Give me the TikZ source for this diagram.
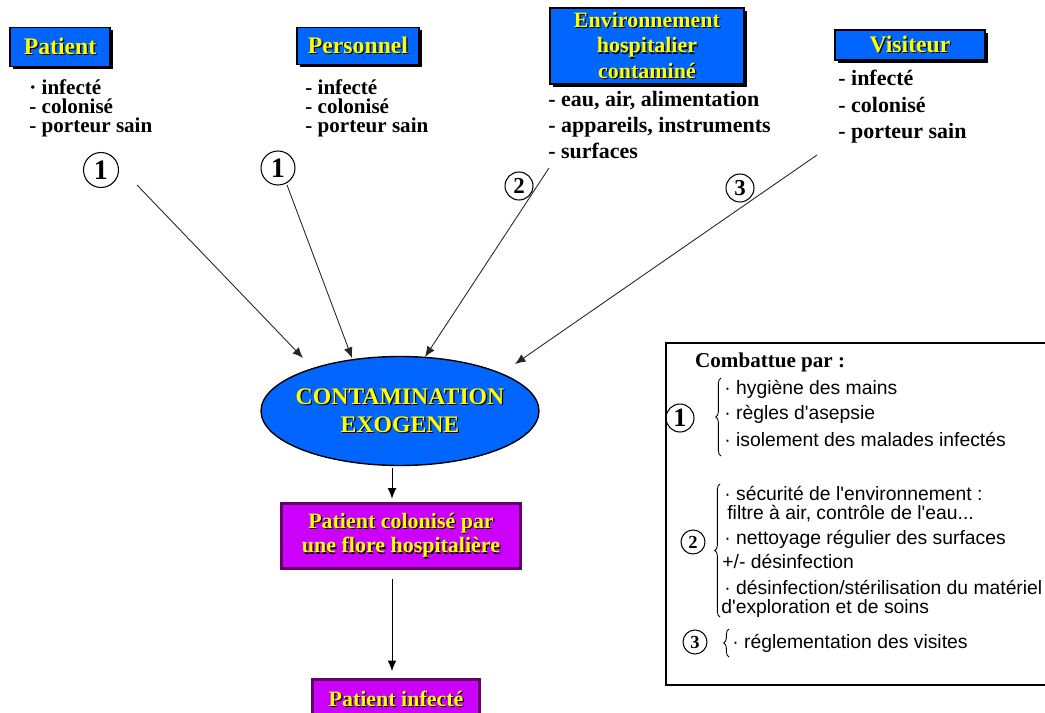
\documentclass[tikz,border=0pt]{standalone}
\usepackage{fontspec}
\setmainfont{Liberation Serif}
\newfontfamily\sansfam{Liberation Sans}
\usetikzlibrary{shapes.geometric,shadows,arrows.meta,decorations.pathreplacing,calc}
\definecolor{bleuvif}{RGB}{0,102,255}
\definecolor{mauve}{RGB}{204,0,255}
\definecolor{prune}{RGB}{100,0,100}
\definecolor{jaune}{RGB}{255,255,0}
\newcommand{\ombre}[1]{\makebox[0pt][l]{\hspace{0.7pt}\raisebox{-0.7pt}{\textcolor{black}{#1}}}#1}

\begin{document}
\begin{tikzpicture}[x=0.02cm, y=-0.02cm,
  titre/.style={draw, line width=0.8pt, fill=bleuvif, text=jaune, inner sep=0pt, align=center,
    font=\bfseries\fontsize{13.5}{14.5}\selectfont,
    drop shadow={opacity=1, fill=black, shadow xshift=1.7pt, shadow yshift=-1.7pt}},
  liste/.style={anchor=north west, inner sep=0pt, align=left},
  rond/.style={circle, draw, line width=0.6pt, inner sep=0pt},
  etape/.style={draw=prune, line width=1.5pt, fill=mauve, text=jaune, inner sep=0pt, align=center,
    font=\bfseries\fontsize{12.5}{14}\selectfont,
    drop shadow={opacity=1, fill=black, shadow xshift=1pt, shadow yshift=-1pt}},
  fleche/.style={-{Latex[length=6pt,width=5pt]}, line width=0.5pt},
  moyen/.style={anchor=west, inner sep=0pt, font=\sansfam\fontsize{11}{12}\selectfont},
  accol/.style={decorate, decoration={brace, amplitude=3pt}, line width=0.5pt}]
\clip (0,0) rectangle (1045,713);
% sources de contamination
\node[titre, minimum width=2cm, minimum height=0.78cm] (patient) at (60,47) {\ombre{Patient}};
\node[titre, minimum width=2.44cm, minimum height=0.74cm] (personnel) at (358,46) {\ombre{Personnel}};
\node[titre, minimum width=3.88cm, minimum height=1.52cm, font=\bfseries\fontsize{12.5}{14.5}\selectfont] (envir) at (647,46)
  {\ombre{Environnement}\\\ombre{hospitalier}\\\ombre{contaminé}};
\node[titre, minimum width=3cm, minimum height=0.6cm] (visiteur) at (910,45) {\ombre{Visiteur}};
\node[liste, font=\bfseries\fontsize{12}{11}\selectfont] (lpatient) at (29,79) {· infecté\\- colonisé\\- porteur sain};
\node[liste, font=\bfseries\fontsize{12}{11}\selectfont] (lpersonnel) at (305,79) {- infecté\\- colonisé\\- porteur sain};
\node[liste, font=\bfseries\fontsize{12.5}{14.7}\selectfont] (lenvir) at (548,91) {- eau, air, alimentation\\- appareils, instruments\\- surfaces};
\node[liste, font=\bfseries\fontsize{12.5}{15}\selectfont] (lvisiteur) at (838,70) {- infecté\\- colonisé\\- porteur sain};
\node[rond, minimum size=0.7cm, font=\bfseries\fontsize{16}{16}\selectfont] (n1a) at (101,170) {1};
\node[rond, minimum size=0.68cm, font=\bfseries\fontsize{16}{16}\selectfont] (n1b) at (278,168) {1};
\node[rond, minimum size=0.56cm, font=\bfseries\fontsize{13}{13}\selectfont] (n2) at (519,186) {2};
\node[rond, minimum size=0.56cm, font=\bfseries\fontsize{13}{13}\selectfont] (n3) at (740,188) {3};
% chaine vers le patient
\node[ellipse, draw, line width=0.8pt, fill=bleuvif, text=jaune, align=center, inner xsep=-12pt, inner ysep=0pt,
  minimum width=5.56cm, minimum height=2.18cm,
  font=\bfseries\fontsize{13.5}{16}\selectfont] (contam) at (400,411) {\ombre{CONTAMINATION}\\\ombre{EXOGENE}};
\node[etape, minimum width=4.78cm, minimum height=1.3cm] (colon) at (401,536) {\ombre{Patient colonisé par}\\\ombre{une flore hospitalière}};
\node[etape, minimum width=3.34cm, minimum height=0.78cm] (infect) at (396,699) {\ombre{Patient infecté}};
\coordinate (d1) at (137,185); \coordinate (f1) at (303,358);
\coordinate (d2) at (287,185); \coordinate (f2) at (352,358);
\coordinate (d3) at (549,168); \coordinate (f3) at (425,357);
\coordinate (d4) at (817,155); \coordinate (f4) at (515,364);
\draw[fleche, black!85] (d1) -- (f1);
\draw[fleche, black!85] (d2) -- (f2);
\draw[fleche, black!85] (d3) -- (f3);
\draw[fleche, black!85] (d4) -- (f4);
\draw[fleche, shorten <=1pt, shorten >=2pt] ($(contam.south)+(-8,0)$) -- ($(colon.north)+(-9,0)$);
\draw[fleche, shorten <=5pt, shorten >=4pt] ($(colon.south)+(-9,0)$) -- ($(infect.north)+(-4,0)$);
% moyens de lutte
\draw[line width=1.1pt] (666,343) rectangle (1060,685);
\node[anchor=west, font=\bfseries\fontsize{12}{13}\selectfont] (combat) at (689,362) {Combattue par :};
\node[rond, minimum size=0.56cm, font=\bfseries\fontsize{15}{15}\selectfont] (r1) at (680,418) {1};
\node[rond, minimum size=0.48cm, font=\bfseries\fontsize{10.5}{10.5}\selectfont] (r2) at (693,542) {2};
\node[rond, minimum size=0.48cm, font=\bfseries\fontsize{10.5}{10.5}\selectfont] (r3) at (695,642) {3};
\draw[accol] (721,456) -- (721,378);
\draw[accol] (720,617) -- (720,484);
\draw[accol] (729,657) -- (729,629);
\foreach \yy/\xx/\txt [count=\k] in {389/724/{· hygiène des mains}, 414/724/{· règles d'asepsie},
    439/724/{· isolement des malades infectés}, 493/724/{· sécurité de l'environnement :},
    514/727/{filtre à air, contrôle de l'eau...}, 539/724/{· nettoyage régulier des surfaces},
    561/722/{+/- désinfection}, 587/724/{· désinfection/stérilisation du matériel},
    608/721/{d'exploration et de soins}, 643/732/{· réglementation des visites}}
  \node[moyen] (m\k) at (\xx,\yy) {\txt};
\end{tikzpicture}
\end{document}
